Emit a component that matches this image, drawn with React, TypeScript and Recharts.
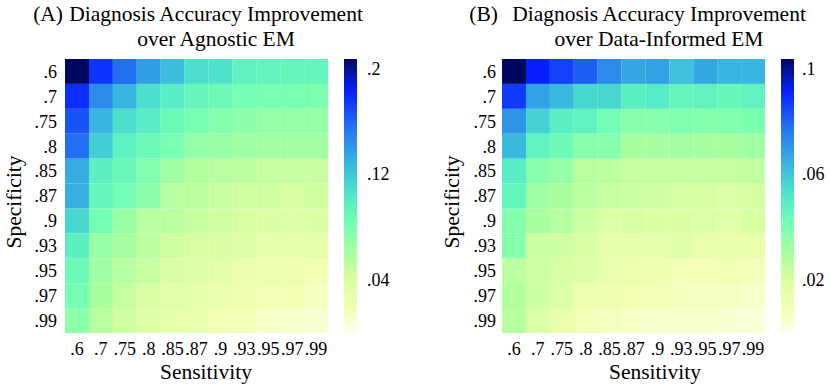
import React from "react";
import { BarChart, Bar, Cell, XAxis, YAxis } from "recharts";

const sensitivity = [".6", ".7", ".75", ".8", ".85", ".87", ".9", ".93", ".95", ".97", ".99"];
const specificity = [".6", ".7", ".75", ".8", ".85", ".87", ".9", ".93", ".95", ".97", ".99"];

// rows: specificity (top to bottom), columns: sensitivity (left to right)
const gainVsAgnostic = [
  [0.207, 0.176, 0.157, 0.137, 0.124, 0.108, 0.106, 0.095, 0.093, 0.091, 0.091],
  [0.178, 0.145, 0.128, 0.108, 0.099, 0.091, 0.087, 0.083, 0.081, 0.081, 0.079],
  [0.166, 0.128, 0.108, 0.099, 0.087, 0.081, 0.075, 0.072, 0.068, 0.068, 0.068],
  [0.157, 0.116, 0.095, 0.087, 0.081, 0.068, 0.068, 0.064, 0.062, 0.062, 0.062],
  [0.132, 0.097, 0.089, 0.077, 0.064, 0.056, 0.054, 0.052, 0.048, 0.048, 0.046],
  [0.13, 0.091, 0.083, 0.072, 0.054, 0.052, 0.048, 0.043, 0.043, 0.041, 0.043],
  [0.112, 0.083, 0.068, 0.054, 0.052, 0.048, 0.043, 0.039, 0.037, 0.035, 0.037],
  [0.097, 0.068, 0.06, 0.052, 0.043, 0.039, 0.037, 0.035, 0.029, 0.029, 0.029],
  [0.087, 0.064, 0.054, 0.048, 0.037, 0.035, 0.031, 0.025, 0.023, 0.023, 0.019],
  [0.083, 0.06, 0.048, 0.037, 0.031, 0.029, 0.025, 0.023, 0.019, 0.019, 0.014],
  [0.072, 0.054, 0.043, 0.033, 0.029, 0.025, 0.019, 0.017, 0.012, 0.01, 0.008],
];

const gainVsInformed = [
  [0.1035, 0.091, 0.086, 0.081, 0.073, 0.067, 0.068, 0.061, 0.067, 0.064, 0.064],
  [0.087, 0.068, 0.063, 0.056, 0.056, 0.049, 0.05, 0.046, 0.047, 0.045, 0.047],
  [0.071, 0.057, 0.049, 0.047, 0.042, 0.037, 0.037, 0.039, 0.038, 0.039, 0.04],
  [0.063, 0.047, 0.043, 0.037, 0.037, 0.03, 0.03, 0.031, 0.03, 0.03, 0.032],
  [0.05, 0.037, 0.034, 0.027, 0.026, 0.024, 0.024, 0.024, 0.024, 0.024, 0.025],
  [0.046, 0.032, 0.03, 0.027, 0.024, 0.022, 0.022, 0.02, 0.02, 0.018, 0.02],
  [0.038, 0.03, 0.027, 0.022, 0.018, 0.02, 0.019, 0.019, 0.018, 0.016, 0.019],
  [0.038, 0.022, 0.022, 0.019, 0.014, 0.014, 0.014, 0.016, 0.013, 0.013, 0.013],
  [0.026, 0.022, 0.02, 0.017, 0.013, 0.012, 0.011, 0.009, 0.009, 0.01, 0.009],
  [0.028, 0.022, 0.018, 0.011, 0.011, 0.01, 0.009, 0.008, 0.007, 0.007, 0.005],
  [0.027, 0.018, 0.013, 0.009, 0.008, 0.006, 0.005, 0.005, 0.005, 0.004, 0.003],
];

const agnosticTicks = [0.04, 0.12, 0.2];
const informedTicks = [0.02, 0.06, 0.1];
const agnosticMax = 0.207;
const informedMax = 0.1035;

const FONT = "'Liberation Serif', 'Times New Roman', serif";

const stops: [number, number[]][] = [
  [0.0, [255, 255, 229]],
  [0.1, [240, 255, 176]],
  [0.2, [212, 255, 160]],
  [0.3, [164, 255, 160]],
  [0.4, [116, 255, 180]],
  [0.5, [80, 232, 200]],
  [0.62, [56, 180, 224]],
  [0.75, [36, 116, 240]],
  [0.88, [8, 32, 255]],
  [1.0, [0, 8, 96]],
];

function colour(t: number) {
  const v = Math.max(0, Math.min(1, t));
  for (let k = 1; k < stops.length; k++) {
    const [t1, c1] = stops[k];
    const [t0, c0] = stops[k - 1];
    if (v <= t1) {
      const f = (v - t0) / (t1 - t0);
      const c = c0.map((a, i) => Math.round(a + (c1[i] - a) * f));
      return `rgb(${c[0]},${c[1]},${c[2]})`;
    }
  }
  return "rgb(0,8,96)";
}

const fmt = (v: number) => String(v).replace(/^0/, "");

const rowKeys = specificity.map((_, i) => `r${i}`);
const gridData = sensitivity.map((s) => {
  const row: Record<string, string | number> = { sens: s };
  rowKeys.forEach((k) => (row[k] = 1));
  return row;
});
const yTicks = specificity.map((_, k) => k + 0.5);

function Heatmap({
  values,
  vmax,
  left,
  marginLeft,
  yTickMargin,
  tag,
  tagEnd,
  titleX,
  line2,
  xLabelX,
  yLabelX,
}: {
  values: number[][];
  vmax: number;
  left: number;
  marginLeft: number;
  yTickMargin: number;
  tag: string;
  tagEnd: number;
  titleX: number;
  line2: string;
  xLabelX: number;
  yLabelX: number;
}) {
  const txt = { fontFamily: FONT, fill: "#000" };
  return (
    <div style={{ position: "absolute", left, top: 0 }}>
      <BarChart
        width={415}
        height={392}
        data={gridData}
        barCategoryGap={0}
        barGap={0}
        margin={{ top: 59, right: 415 - marginLeft - 40 - 263, bottom: 29, left: marginLeft }}
      >
        <XAxis
          dataKey="sens"
          interval={0}
          axisLine={false}
          tickLine={false}
          tickMargin={3}
          height={30}
          tick={{ fontSize: 18, fontFamily: FONT, fill: "#000" }}
        />
        <YAxis
          type="number"
          domain={[0, 11]}
          ticks={yTicks}
          interval={0}
          tickFormatter={(v: number) => specificity[10 - Math.floor(v)]}
          axisLine={false}
          tickLine={false}
          tickMargin={yTickMargin}
          width={40}
          tick={{ fontSize: 18, fontFamily: FONT, fill: "#000" }}
        />
        {rowKeys
          .map((k, i) => (
            <Bar key={k} dataKey={k} stackId="grid" isAnimationActive={false}>
              {sensitivity.map((_, j) => (
                <Cell key={j} fill={colour(values[i][j] / vmax)} />
              ))}
            </Bar>
          ))
          .reverse()}
        <text x={tagEnd} y={21} textAnchor="end" fontSize={21.5} {...txt}>
          {tag}
        </text>
        <text x={titleX} y={21} textAnchor="middle" fontSize={21.5} {...txt}>
          Diagnosis Accuracy Improvement
        </text>
        <text x={titleX} y={46} textAnchor="middle" fontSize={21.5} {...txt}>
          {line2}
        </text>
        <text x={xLabelX} y={379} textAnchor="middle" fontSize={21.5} {...txt}>
          Sensitivity
        </text>
        <text
          x={yLabelX}
          y={202}
          textAnchor="middle"
          fontSize={21.5}
          transform={`rotate(-90 ${yLabelX} 202)`}
          {...txt}
        >
          Specificity
        </text>
      </BarChart>
    </div>
  );
}

function ColourBar({
  id,
  left,
  vmax,
  ticks,
  tickMargin,
}: {
  id: string;
  left: number;
  vmax: number;
  ticks: number[];
  tickMargin: number;
}) {
  return (
    <div style={{ position: "absolute", left, top: 0 }}>
      <BarChart
        width={80}
        height={392}
        data={[{ name: "scale", v: vmax }]}
        barCategoryGap={0}
        margin={{ top: 59, right: 27, bottom: 60, left: 0 }}
      >
        <defs>
          <linearGradient id={id} x1="0" y1="1" x2="0" y2="0">
            {stops.map(([t]) => (
              <stop key={t} offset={`${t * 100}%`} stopColor={colour(t)} />
            ))}
          </linearGradient>
        </defs>
        <XAxis dataKey="name" hide />
        <YAxis
          orientation="right"
          type="number"
          domain={[0, vmax]}
          ticks={ticks}
          interval={0}
          tickFormatter={fmt}
          axisLine={false}
          tickLine={false}
          tickMargin={tickMargin}
          width={40}
          tick={{ fontSize: 18, fontFamily: FONT, fill: "#000", textAnchor: "start" }}
        />
        <Bar dataKey="v" fill={`url(#${id})`} isAnimationActive={false} />
      </BarChart>
    </div>
  );
}

export default function App() {
  return (
    <div
      style={{
        position: "absolute",
        left: 0,
        top: 0,
        width: 830,
        height: 392,
        background: "#fff",
        overflow: "hidden",
      }}
    >
      <Heatmap
        values={gainVsAgnostic}
        vmax={agnosticMax}
        left={0}
        marginLeft={25}
        yTickMargin={2}
        tag="(A)"
        tagEnd={63}
        titleX={216}
        line2="over Agnostic EM"
        xLabelX={206}
        yLabelX={21}
      />
      <Heatmap
        values={gainVsInformed}
        vmax={informedMax}
        left={415}
        marginLeft={47}
        yTickMargin={0}
        tag="(B)"
        tagEnd={83}
        titleX={244}
        line2="over Data-Informed EM"
        xLabelX={240}
        yLabelX={44}
      />
      <ColourBar id="cbA" left={344} vmax={agnosticMax} ticks={agnosticTicks} tickMargin={4} />
      <ColourBar id="cbB" left={781} vmax={informedMax} ticks={informedTicks} tickMargin={2} />
    </div>
  );
}
